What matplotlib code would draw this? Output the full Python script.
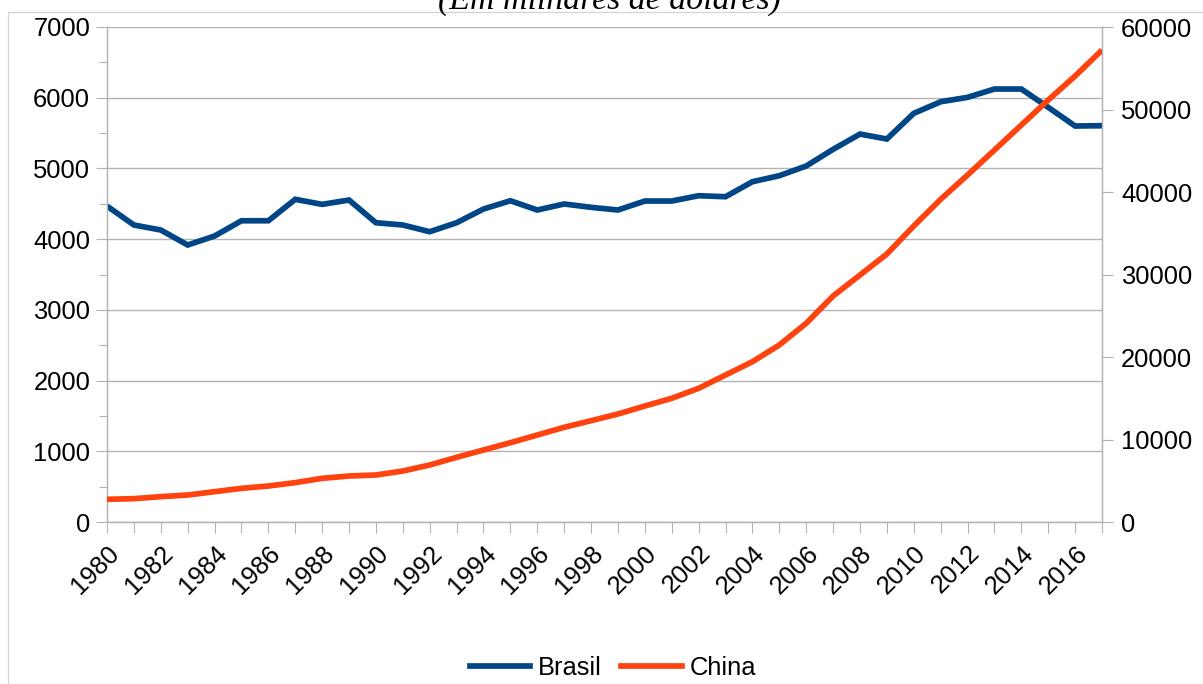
import matplotlib
matplotlib.use("Agg")
import matplotlib.pyplot as plt
from matplotlib.patches import Rectangle
from matplotlib.lines import Line2D

# Data
years = list(range(1980, 2018))
brasil = [4468, 4200, 4129, 3917, 4044, 4260, 4260, 4563, 4492, 4553,
          4232, 4200, 4105, 4232, 4426, 4543, 4412, 4497, 4450, 4412,
          4539, 4539, 4614, 4600, 4812, 4897, 5034, 5270, 5486, 5416,
          5779, 5943, 6005, 6123, 6123, 5864, 5600, 5604]
china = [2750, 2830, 3070, 3270, 3676, 4080, 4363, 4770, 5293, 5575,
         5697, 6181, 6908, 7839, 8726, 9612, 10544, 11477, 12278, 13090,
         14059, 14993, 16205, 17816, 19428, 21452, 24083, 27391, 29936, 32482,
         35875, 39112, 42056, 45086, 48116, 51146, 54055, 57206]
series_names = ["Brasil", "China"]
title = "(Em milhares de dólares)"

BLUE = "#004586"
ORANGE = "#ff420e"
GRID = "#b3b3b3"
FONT = "Liberation Sans"
FS = 18.4

W, H = 1203, 684
fig = plt.figure(figsize=(W / 100, H / 100), dpi=100)
fig.patch.set_facecolor("white")

# outer chart frame
fig.add_artist(Rectangle((8 / W, -0.1), 1.2, (1 - 12 / H) + 0.1,
                         transform=fig.transFigure, fill=False,
                         edgecolor="#d4d4d4", lw=0.9))

ax = fig.add_axes([107 / W, 1 - 522 / H, (1102 - 107) / W, (522 - 27) / H])
ax2 = ax.twinx()

ax.plot(years, brasil, color=BLUE, lw=4.1, solid_joinstyle="miter",
        solid_capstyle="butt", zorder=3)
ax2.plot(years, china, color=ORANGE, lw=4.1, solid_joinstyle="miter",
         solid_capstyle="butt", zorder=3)

ax.set_xlim(1980, 2017)
ax.set_ylim(0, 7000)
ax2.set_ylim(0, 60000)

# left axis
ax.set_yticks(range(0, 7001, 1000))
ax.set_yticks(range(500, 7000, 1000), minor=True)
ax.yaxis.grid(True, which="major", color=GRID, lw=1.0)
ax.set_axisbelow(True)
ax.tick_params(axis="y", which="major", length=7.6, width=0.8, color=GRID,
               pad=4.5, labelsize=FS)
ax.tick_params(axis="y", which="minor", length=5.8, width=0.8, color=GRID)

# right axis
ax2.set_yticks(range(0, 60001, 10000))
ax2.tick_params(axis="y", which="major", length=7.6, width=0.8, color=GRID,
                pad=6, labelsize=FS)

# x axis
ax.set_xticks(years)
ax.set_xticklabels([str(y) if (y - 1980) % 2 == 0 else "" for y in years],
                   rotation=45, ha="right", rotation_mode="anchor")
ax.tick_params(axis="x", length=7.6, width=0.8, color=GRID, pad=6,
               labelsize=FS)

for a in (ax, ax2):
    for side in ("left", "right", "bottom"):
        a.spines[side].set_color(GRID)
        a.spines[side].set_linewidth(0.9)
    a.spines["top"].set_visible(False)
    for lbl in a.get_xticklabels() + a.get_yticklabels():
        lbl.set_fontfamily(FONT)

fig.text(609.5 / W, 1 - 9 / H, title, ha="center", va="baseline",
         family="Liberation Serif", style="italic", fontsize=24.4)

handles = [Line2D([], [], color=BLUE, lw=4.1),
           Line2D([], [], color=ORANGE, lw=4.1)]
fig.legend(handles, series_names, loc="center", ncol=2,
           bbox_to_anchor=(613 / W, 1 - 668 / H), frameon=False,
           prop={"family": FONT, "size": FS}, handlelength=2.38,
           handletextpad=0.31, columnspacing=0.74, borderpad=0,
           borderaxespad=0)

fig.savefig("out.png", dpi=100)
